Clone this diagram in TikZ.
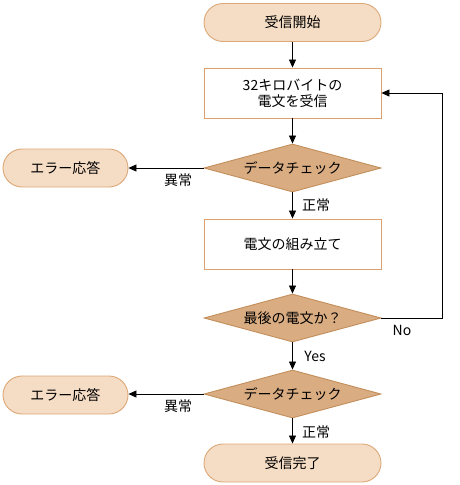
\documentclass[tikz,border=0pt]{standalone}
\usepackage{fontspec}
\setmainfont{Noto Sans CJK JP}
\usetikzlibrary{shapes.geometric,arrows.meta}
\definecolor{termfill}{HTML}{F5DCC4}
\definecolor{termline}{HTML}{DCA878}
\definecolor{diafill}{HTML}{D9AC82}
\definecolor{dialine}{HTML}{C38E5A}
\definecolor{boxline}{HTML}{DCA070}
\tikzset{
  every node/.style={font=\fontsize{14}{16}\selectfont},
  term/.style={draw=termline, fill=termfill, line width=0.9pt, rounded corners=19pt, minimum width=#1, minimum height=38pt, inner sep=0pt},
  term/.default=177pt,
  procbox/.style={draw=boxline, fill=white, line width=0.9pt, minimum width=177pt, minimum height=50pt, inner sep=0pt, align=center},
  decide/.style={diamond, draw=dialine, fill=diafill, line width=0.9pt, minimum width=177pt, minimum height=48pt, aspect=3.67, inner sep=0pt},
  conn/.style={draw=black, line width=0.8pt},
  arr/.style={conn, -{Triangle[length=8pt,width=7pt]}},
  lbl/.style={inner sep=0pt}
}
\begin{document}
\begin{tikzpicture}[x=1pt,y=-1pt]
\useasboundingbox (0,0) rectangle (459,485);
\node[term] (start) at (292.5,22.5) {受信開始};
\node[procbox] (recv) at (292.5,93) {32キロバイトの\\電文を受信};
\node[decide] (chk1) at (292.5,168) {データチェック};
\node[term=125pt] (err1) at (65.5,168) {エラー応答};
\node[procbox] (build) at (292.5,244) {電文の組み立て};
\node[decide] (last) at (292.5,318) {最後の電文か？};
\node[decide] (chk2) at (292.5,394) {データチェック};
\node[term=125pt] (err2) at (65.5,395) {エラー応答};
\node[term] (fin) at (292.5,463) {受信完了};
\coordinate (c1) at (442,318);
\coordinate (c2) at (442,93);
\draw[arr] (start) -- (recv);
\draw[arr] (recv) -- (chk1);
\draw[arr] (chk1.west) -- (err1.east);
\draw[arr] (chk1) -- (build);
\draw[arr] (build) -- (last);
\draw[arr] (last) -- (chk2);
\draw[arr] (chk2.west) -- (err2.east |- chk2.west);
\draw[arr] (chk2) -- (fin);
\draw[arr] (last.east) -- (c1) -- (c2) -- (recv.east);
\node[lbl] (l1) at (178,180) {異常};
\node[lbl] (l2) at (316,205) {正常};
\node[lbl] (l3) at (402,330) {No};
\node[lbl] (l4) at (315,356) {Yes};
\node[lbl] (l5) at (178,406) {異常};
\node[lbl] (l6) at (316,432) {正常};
\end{tikzpicture}
\end{document}
